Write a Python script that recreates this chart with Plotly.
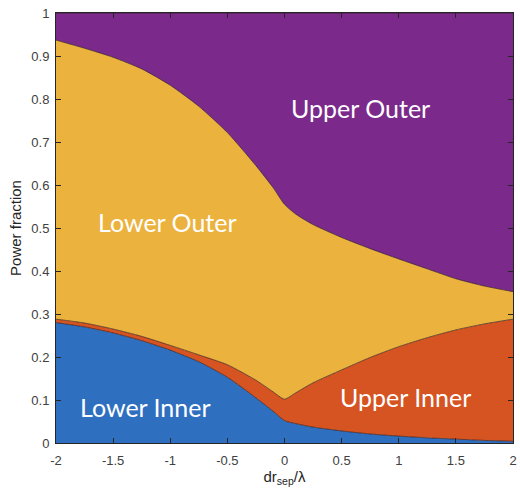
import plotly.graph_objects as go

# Normalised separatrix shift dr_sep / lambda
x_vals = [-2.0, -1.75, -1.5, -1.25, -1.0, -0.75, -0.5, -0.25, -0.1, 0.0,
          0.1, 0.25, 0.5, 0.75, 1.0, 1.25, 1.5, 1.75, 2.0]

# Power fraction reaching each divertor target
lower_inner = [0.280, 0.270, 0.256, 0.238, 0.216, 0.189, 0.153, 0.105, 0.074, 0.052,
               0.045, 0.037, 0.028, 0.021, 0.016, 0.012, 0.009, 0.006, 0.004]
upper_inner = [0.008, 0.009, 0.009, 0.010, 0.011, 0.016, 0.029, 0.041, 0.045, 0.050,
               0.072, 0.103, 0.142, 0.178, 0.208, 0.233, 0.254, 0.271, 0.284]
lower_outer = [0.649, 0.639, 0.632, 0.622, 0.605, 0.578, 0.540, 0.499, 0.475, 0.453,
               0.415, 0.368, 0.308, 0.253, 0.204, 0.160, 0.119, 0.088, 0.064]
upper_outer = [round(1 - a - b - c, 3) for a, b, c in zip(lower_inner, upper_inner, lower_outer)]

series = [
    ("Lower Inner", lower_inner, "#2f6fc0"),
    ("Upper Inner", upper_inner, "#d65322"),
    ("Lower Outer", lower_outer, "#ebb23d"),
    ("Upper Outer", upper_outer, "#7b2a8c"),
]

# Label placement (data coordinates)
label_x = [-1.22, 1.06, -1.02, 0.665]
label_y = [0.084, 0.108, 0.514, 0.779]

fig = go.Figure()
for name, vals, color in series:
    fig.add_trace(go.Scatter(
        x=x_vals, y=vals, name=name, mode="lines",
        stackgroup="one", fillcolor=color,
        line=dict(color="rgba(45,25,25,0.85)", width=0.8, shape="spline", smoothing=0.6),
        hoverinfo="skip",
    ))

for (name, _, _), lx, ly in zip(series, label_x, label_y):
    fig.add_annotation(x=lx, y=ly, xref="x", yref="y", text=name,
                       showarrow=False,
                       font=dict(family="Lato, Open Sans, sans-serif", size=25, color="white"))

axis_common = dict(
    showline=True, linecolor="#262626", linewidth=1, mirror="ticks",
    ticks="inside", ticklen=5, tickcolor="#262626",
    showgrid=False, zeroline=False, ticklabeloverflow="allow",
    tickfont=dict(family="Liberation Sans, Arial, sans-serif", size=13, color="#404040"),
)

fig.update_xaxes(range=[-2, 2], tickvals=[-2, -1.5, -1, -0.5, 0, 0.5, 1, 1.5, 2],
                 ticktext=["-2", "-1.5", "-1", "-0.5", "0", "0.5", "1", "1.5", "2"],
                 ticklabelstandoff=5,
                 title=dict(text="dr<sub>sep</sub>/λ", standoff=4,
                            font=dict(family="Liberation Sans, Arial, sans-serif", size=15, color="#262626")),
                 **axis_common)
fig.update_yaxes(range=[0, 1], tickvals=[0, 0.1, 0.2, 0.3, 0.4, 0.5, 0.6, 0.7, 0.8, 0.9, 1],
                 ticktext=["0", "0.1", "0.2", "0.3", "0.4", "0.5", "0.6", "0.7", "0.8", "0.9", "1"],
                 ticklabelstandoff=3,
                 title=dict(text="Power fraction", standoff=6,
                            font=dict(family="Liberation Sans, Arial, sans-serif", size=15, color="#262626")),
                 **axis_common)

fig.update_layout(
    width=520, height=494,
    margin=dict(l=56, r=3, t=13, b=51),
    paper_bgcolor="white", plot_bgcolor="white",
    showlegend=False,
)

fig.write_html("out.html")
